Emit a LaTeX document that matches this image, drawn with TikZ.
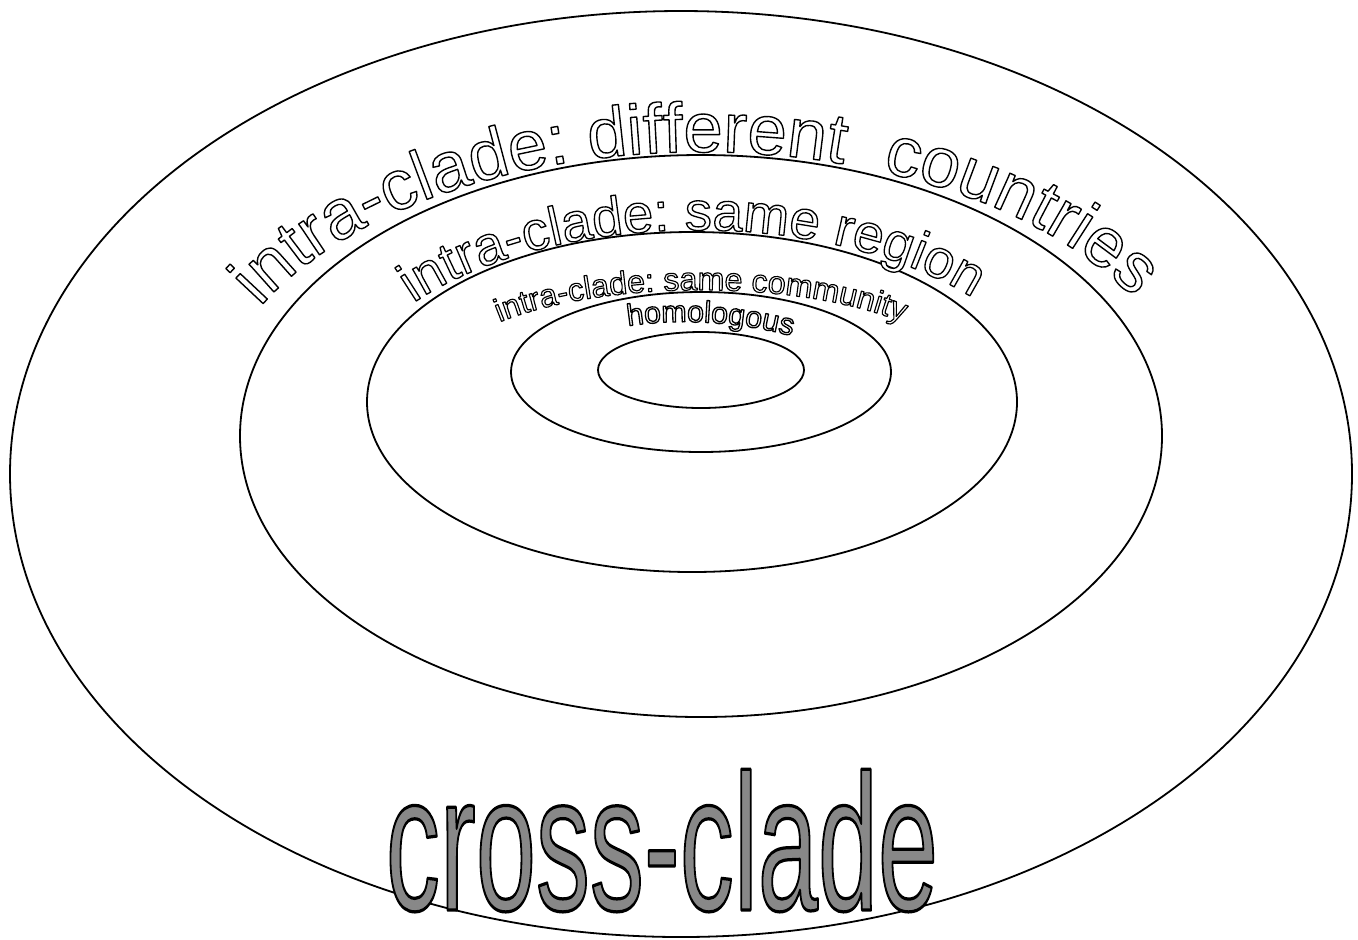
\documentclass[tikz,border=0pt]{standalone}
\usepackage{fontspec}
\setmainfont{Liberation Sans}
\usetikzlibrary{decorations.text}
\definecolor{crossgray}{HTML}{888888}
% chữ rỗng: tô trắng, viền đen
\newcommand{\hollow}[2]{\textcolor{white}{\special{pdf:literal direct 0 G #1 w 1 j 2 Tr}#2\special{pdf:literal direct 0 Tr}}}
\newcommand{\grayhollow}[1]{\textcolor{crossgray}{\special{pdf:literal direct 0 G 0.9 w 1 j 2 Tr}#1\special{pdf:literal direct 0 Tr}}}
\tikzset{
  ringtext/.style n args={3}{decoration={text effects along path, text={#3},
    text effects/.cd, text along path, scale text to path,
    characters={font=\fontsize{#1}{#1}\selectfont}, character command={\hollow{#2}}}, decorate}
}
\begin{document}
\begin{tikzpicture}[x=0.5pt, y=0.5pt, line width=0.9pt, line join=round, line cap=round]
\useasboundingbox (0,0) rectangle (1358,-939);
%Vẽ các ellipse
\foreach \cx/\cy/\rx/\ry in {681/474/671/463, 701/436/461/281, 692/402/325/170, 701/372/190/80, 701/370/103/38}
\draw (\cx,-\cy) ellipse [x radius=\rx, y radius=\ry];
%chữ theo cung
\path[ringtext={38}{0.75}{intra-clade: different~ countries}]
(701,-436) ++(153:495 and 284) arc[start angle=153, end angle=29, x radius=495, y radius=284];
\path[ringtext={31}{0.75}{intra-clade: same region}]
(697,-420) ++(142:360 and 190) arc[start angle=142, end angle=40, x radius=360, y radius=190];
\path[ringtext={18}{0.65}{intra-clade: same community}]
(701,-380) ++(140:263 and 90) arc[start angle=140, end angle=40, x radius=263, y radius=90];
\path[ringtext={14}{0.6}{homologous}]
(628,-326) .. controls (680,-318) and (740,-322) .. (792,-336);
\node[anchor=base, yscale=1.8, inner sep=0pt, font=\fontsize{54}{54}\selectfont] (cross) at (662,-910)
{\grayhollow{cross-clade}};
\end{tikzpicture}
\end{document}
